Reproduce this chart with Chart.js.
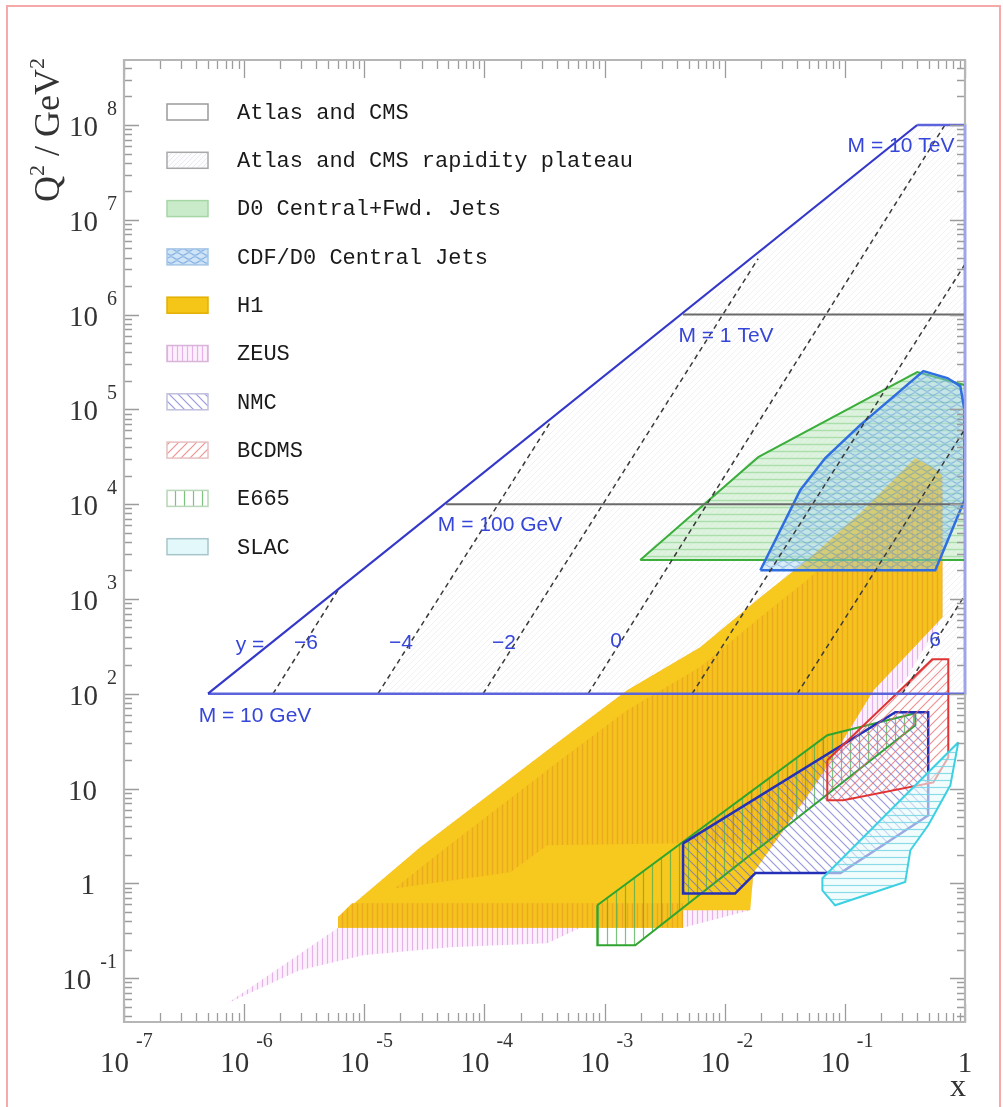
<!DOCTYPE html>
<html><head><meta charset="utf-8">
<script src="https://cdn.jsdelivr.net/npm/chart.js@4.4.1/dist/chart.umd.min.js"></script>
<style>
html,body{margin:0;padding:0;background:#fff;overflow:hidden;width:1003px;height:1107px;}
#frame{position:absolute;left:6px;top:5px;width:995px;height:1200px;border:2px solid #f6a9a9;border-bottom:none;box-sizing:border-box;}
canvas{position:absolute;left:0;top:0;}
</style></head><body>
<div id="frame"></div>
<canvas id="c" width="1003" height="1107"></canvas>
<script>
// ---------------- data (x, Q^2 in GeV^2) ----------------
const xTickExps = [-7,-6,-5,-4,-3,-2,-1,0];
const yTickExps = [-1,0,1,2,3,4,5,6,7,8];
const legendLabels = ['Atlas and CMS','Atlas and CMS rapidity plateau','D0 Central+Fwd. Jets','CDF/D0 Central Jets','H1','ZEUS','NMC','BCDMS','E665','SLAC'];

const atlasDiagX = [5.0e-7, 0.40];
const atlasDiagQ2 = [1e2, 1e8];
const atlasEdgeX = [0.40, 1, 1, 5.0e-7];
const atlasEdgeQ2 = [1e8, 1e8, 1e2, 1e2];
const plateauX = [1.3e-5, 3.6e-4, 0.40, 1, 1];
const plateauQ2 = [1e2, 7.6e4, 1e8, 1e8, 1e2];

const massNames = ['M = 10 GeV','M = 100 GeV','M = 1 TeV','M = 10 TeV'];
const massQ2 = [1e2, 1e4, 1e6, 1e8];
const massStartX = [5.0e-7, 4.8e-5, 4.5e-3, 0.40];

const rapidityValues = [-6,-4,-2,0,2,4,6];
const rapStartX = [1.74e-6, 1.30e-5, 9.75e-5, 7.3e-4, 5.36e-3, 0.0402, 0.30];
const rapStartQ2 = [100, 100, 100, 100, 100, 100, 100];
const rapEndX = [6.2e-6, 3.6e-4, 0.019, 0.68, 1, 1, 1];
const rapEndQ2 = [1300, 7.6e4, 3.9e6, 1e8, 3.4e6, 6.2e4, 1100];

const d0X = [1.98e-3, 0.019, 0.40, 1, 1];
const d0Q2 = [2570, 31300, 247000, 180000, 2570];

const cdfX = [0.0198, 0.0426, 0.0687, 0.134, 0.450, 0.713, 0.914, 0.99, 0.99, 0.566];
const cdfQ2 = [2010, 14100, 30600, 68200, 253000, 214000, 176000, 98200, 11000, 2010];

const h1X = [6.05e-6, 6.05e-6, 2.92e-5, 4.27e-4, 1.54e-3, 6.25e-3, 0.0198, 0.0486, 0.134, 0.385, 0.535, 0.647, 0.647, 0.173, 0.0624, 0.0173, 0.0163, 4.5e-3, 4.5e-3];
const h1Q2 = [0.34, 0.44, 2.4, 32, 109, 310, 1040, 2570, 8040, 30600, 24500, 20200, 641, 109, 13.2, 1.28, 0.52, 0.52, 0.34];
const h1UpperX = [1.80e-5, 4.28e-5, 4.27e-4, 1.54e-3, 6.25e-3, 0.0198, 0.0486, 0.134, 0.364, 0.647, 0.647, 0.173, 0.0624, 0.0258, 4.5e-3, 3.33e-4, 1.64e-4, 2.10e-5];
const h1UpperQ2 = [0.885, 2.12, 19.9, 67, 191, 641, 1580, 4940, 17900, 13400, 641, 109, 13.2, 2.64, 2.64, 2.52, 1.31, 0.91];
const h1LowerX = [6.05e-6, 6.05e-6, 7.9e-6, 4.5e-3, 4.5e-3];
const h1LowerQ2 = [0.34, 0.44, 0.615, 0.615, 0.34];

const zeusX = [7.2e-7, 6.05e-6, 6.05e-6, 2.92e-5, 4.27e-4, 1.54e-3, 6.25e-3, 0.0198, 0.0486, 0.134, 0.385, 0.647, 0.647, 0.318, 0.134, 0.0624, 0.0173, 0.0163, 4.5e-3, 6.3e-4, 4.27e-4, 3.33e-4, 5.2e-5, 9.8e-6, 2.9e-6];
const zeusQ2 = [0.054, 0.34, 0.44, 2.4, 32, 109, 310, 1040, 2570, 8040, 30600, 20200, 641, 139, 41, 12.2, 1.28, 0.52, 0.34, 0.34, 0.27, 0.233, 0.211, 0.174, 0.121];

const nmcX = [4.5e-3, 4.5e-3, 0.0122, 0.018, 0.092, 0.494, 0.494, 0.263];
const nmcQ2 = [2.64, 0.78, 0.78, 1.28, 1.28, 5.2, 63.8, 63.8];

const bcdmsX = [0.0714, 0.0714, 0.097, 0.545, 0.726, 0.726, 0.535];
const bcdmsQ2 = [19.9, 7.5, 7.5, 11.6, 21.4, 231, 231];

const e665X = [8.7e-4, 8.7e-4, 1.8e-3, 0.386, 0.386, 0.122, 0.0714];
const e665Q2 = [0.586, 0.222, 0.222, 46.5, 62.2, 43.3, 36.5];

const slacX = [0.88, 0.065, 0.065, 0.083, 0.318, 0.351, 0.494, 0.755];
const slacQ2 = [30.8, 1.13, 0.84, 0.586, 1.03, 2.23, 4.09, 10.8];

// ---------------- patterns ----------------
const canvas = document.getElementById('c');
const ctx0 = canvas.getContext('2d');
function hatch(bg, fg, kind, s, lw) {
  const c = document.createElement('canvas');
  c.width = (kind === 'wave') ? 12 : s; c.height = (kind === 'wave') ? 8 : s;
  const g = c.getContext('2d');
  if (bg) { g.fillStyle = bg; g.fillRect(0, 0, c.width, c.height); }
  g.strokeStyle = fg; g.lineWidth = lw; g.beginPath();
  if (kind === 'v') { g.moveTo(s/2, 0); g.lineTo(s/2, s); }
  else if (kind === 'h') { g.moveTo(0, s/2); g.lineTo(s, s/2); }
  else if (kind === '/') { g.moveTo(-1, s+1); g.lineTo(s+1, -1); g.moveTo(-1, 1); g.lineTo(1, -1); g.moveTo(s-1, s+1); g.lineTo(s+1, s-1); }
  else if (kind === '\\') { g.moveTo(-1, -1); g.lineTo(s+1, s+1); g.moveTo(s-1, -1); g.lineTo(s+1, 1); g.moveTo(-1, s-1); g.lineTo(1, s+1); }
  else if (kind === 'wave') {
    g.moveTo(0, 2); g.quadraticCurveTo(3, -0.5, 6, 2); g.quadraticCurveTo(9, 4.5, 12, 2);
    g.moveTo(0, 6); g.quadraticCurveTo(3, 8.5, 6, 6); g.quadraticCurveTo(9, 3.5, 12, 6);
  }
  g.stroke();
  return ctx0.createPattern(c, 'repeat');
}
const PAT = {
  plateau: hatch(null, 'rgba(160,160,190,0.16)', '/', 6, 1),
  zeus: hatch('rgba(252,240,252,1)', '#e4b2e8', 'v', 5, 1.2),
  h1: '#f7c81e',
  h1hatch: hatch('#f6c21e', '#eaa91e', 'v', 5, 1.4),
  d0: hatch('rgba(206,238,206,0.7)', 'rgba(150,212,150,0.7)', 'h', 7, 1.4),
  cdf: hatch('rgba(165,212,238,0.42)', 'rgba(70,135,215,0.45)', 'wave', 0, 1.2),
  e665: hatch(null, 'rgba(80,175,80,0.75)', 'v', 9, 1.2),
  nmc: hatch(null, 'rgba(110,110,210,0.7)', '\\', 9, 1.2),
  bcdms: hatch(null, 'rgba(235,110,110,0.75)', '/', 9, 1.2),
  slac: hatch('rgba(232,250,252,0.6)', 'rgba(120,214,228,0.85)', 'h', 7, 1.2)
};

// ---------------- datasets ----------------
function pts(xs, ys, close) {
  const a = xs.map((x, i) => ({x: x, y: ys[i]}));
  if (close) a.push({x: xs[0], y: ys[0]});
  return a;
}
const datasets = [];
function add(ds) {
  datasets.push(Object.assign({
    showLine: true, pointRadius: 0, pointHoverRadius: 0, tension: 0,
    fill: false, backgroundColor: 'rgba(0,0,0,0)', borderColor: 'rgba(0,0,0,0)', borderWidth: 1,
    order: 1000 - datasets.length
  }, ds));
}
function shape(label, xs, ys, bg, stroke, lw) {
  add({label: label, data: pts(xs, ys, true), fill: 'shape', backgroundColor: bg,
       borderColor: stroke || 'rgba(0,0,0,0)', borderWidth: stroke ? lw : 1});
}
shape('Atlas and CMS rapidity plateau', plateauX, plateauQ2, PAT.plateau);
shape('D0 Central+Fwd. Jets', d0X, d0Q2, PAT.d0);
shape('ZEUS', zeusX, zeusQ2, PAT.zeus);
shape('H1', h1X, h1Q2, PAT.h1);
shape('H1 hatched', h1UpperX, h1UpperQ2, PAT.h1hatch);
shape('H1 hatched low', h1LowerX, h1LowerQ2, PAT.h1hatch);
shape('D0 outline', d0X, d0Q2, 'rgba(0,0,0,0)', '#3cae3c', 2);
shape('CDF/D0 Central Jets', cdfX, cdfQ2, PAT.cdf, '#2f6ee0', 2.5);
shape('E665', e665X, e665Q2, PAT.e665, '#2fa52f', 2);
shape('NMC', nmcX, nmcQ2, PAT.nmc, '#2430b8', 2.5);
shape('BCDMS', bcdmsX, bcdmsQ2, PAT.bcdms, '#e03434', 2);
shape('SLAC', slacX, slacQ2, PAT.slac, '#3cd0e2', 2);
rapidityValues.forEach((r, i) => {
  add({label: 'y = ' + r, data: pts([rapStartX[i], rapEndX[i]], [rapStartQ2[i], rapEndQ2[i]], false),
       borderColor: '#3a3a3a', borderWidth: 1.5, borderDash: [5, 4]});
});
[1, 2].forEach(i => {
  add({label: massNames[i], data: pts([massStartX[i], 1], [massQ2[i], massQ2[i]], false),
       borderColor: '#6a6a6a', borderWidth: 2});
});
add({label: 'Atlas and CMS edge', data: pts(atlasEdgeX, atlasEdgeQ2, false), borderColor: '#5c64dc', borderWidth: 2.5, clip: 3});
add({label: 'Atlas and CMS', data: pts(atlasDiagX, atlasDiagQ2, false), borderColor: '#3438c8', borderWidth: 2.2, clip: 3});

// ---------------- drawing of axes, labels, legend ----------------
function decadeTicks(min, max) {
  const out = [];
  for (let e = Math.floor(Math.log10(min)); e <= Math.ceil(Math.log10(max)); e++)
    for (let m = 1; m < 10; m++) {
      const v = m * Math.pow(10, e);
      if (v >= min * 0.9999 && v <= max * 1.0001) out.push({v: v, major: m === 1});
    }
  return out;
}
const legendBoxes = [
  {fill: '#ffffff', stroke: '#9a9a9a'},
  {fill: hatch('#fcfcfe', 'rgba(180,180,205,0.25)', '/', 5, 1), stroke: '#a8a8a8'},
  {fill: '#c9ebc9', stroke: '#a6d6a6'},
  {fill: hatch('#cfe4f6', 'rgba(80,140,215,0.6)', 'wave', 0, 1.2), stroke: '#a6c6e6'},
  {fill: '#f5c518', stroke: '#e2b000'},
  {fill: PAT.zeus, stroke: '#d8b4d8'},
  {fill: PAT.nmc, stroke: '#c0c0de'},
  {fill: PAT.bcdms, stroke: '#e6c0c0'},
  {fill: PAT.e665, stroke: '#b8d6b8'},
  {fill: '#e2f8fa', stroke: '#a8c6ca'}
];
const overlay = {
  id: 'overlay',
  afterDatasetsDraw(chart) {
    const {ctx, chartArea: a, scales} = chart;
    const xs = scales.x, ys = scales.y;
    ctx.save();
    ctx.strokeStyle = '#9c9c9c'; ctx.lineWidth = 1.3;
    ctx.beginPath();
    decadeTicks(xs.min, xs.max).forEach(t => {
      const p = Math.round(xs.getPixelForValue(t.v)) + 0.5;
      const L = t.major ? 18 : 9;
      ctx.moveTo(p, a.bottom); ctx.lineTo(p, a.bottom - L);
      ctx.moveTo(p, a.top); ctx.lineTo(p, a.top + L);
    });
    decadeTicks(ys.min, ys.max).forEach(t => {
      const p = Math.round(ys.getPixelForValue(t.v)) + 0.5;
      const L = t.major ? 15 : 8;
      ctx.moveTo(a.left, p); ctx.lineTo(a.left + L, p);
      ctx.moveTo(a.right, p); ctx.lineTo(a.right - L, p);
    });
    ctx.stroke();
    const yTop = ys.getPixelForValue(atlasEdgeQ2[0]), yBot = ys.getPixelForValue(atlasEdgeQ2[2]);
    ctx.strokeStyle = '#b6b6b6'; ctx.lineWidth = 2.2;
    ctx.beginPath();
    ctx.moveTo(a.right, yTop); ctx.lineTo(a.right, a.top); ctx.lineTo(a.left, a.top); ctx.lineTo(a.left, a.bottom); ctx.lineTo(a.right, a.bottom); ctx.lineTo(a.right, yBot);
    ctx.stroke();
    ctx.strokeStyle = '#9ea4ea';
    ctx.beginPath(); ctx.moveTo(a.right, yTop); ctx.lineTo(a.right, yBot); ctx.stroke();
    ctx.restore();
  },
  afterDraw(chart) {
    const {ctx, scales} = chart;
    const xs = scales.x, ys = scales.y;
    ctx.save();
    const big = "29px 'Liberation Serif'", small = "20px 'Liberation Serif'";
    ctx.fillStyle = '#333';
    ctx.textBaseline = 'alphabetic';
    xTickExps.forEach(e => {
      const p = xs.getPixelForValue(Math.pow(10, e));
      if (e === 0) { ctx.font = big; ctx.textAlign = 'center'; ctx.fillText('1', p, 1072); return; }
      ctx.font = big; ctx.textAlign = 'right'; ctx.fillText('10', p + 5, 1072);
      ctx.font = small; ctx.textAlign = 'left'; ctx.fillText(String(e), p + 12, 1047);
    });
    yTickExps.forEach(e => {
      const p = ys.getPixelForValue(Math.pow(10, e));
      ctx.textAlign = 'right';
      if (e === 0) { ctx.font = big; ctx.fillText('1', 95, p + 11); return; }
      if (e === 1) { ctx.font = big; ctx.fillText('10', 97, p + 11); return; }
      ctx.font = small; const s = String(e); const w = ctx.measureText(s).width;
      ctx.textAlign = 'left'; ctx.fillText(s, 117 - w, p - 10);
      ctx.font = big; ctx.textAlign = 'right'; ctx.fillText('10', 117 - w - 9, p + 11);
    });
    // axis titles
    ctx.font = "32px 'Liberation Serif'"; ctx.textAlign = 'right';
    ctx.fillText('x', 966, 1096);
    ctx.save();
    ctx.translate(59, 130); ctx.rotate(-Math.PI / 2);
    const tf = "36px 'Liberation Serif'", sf = "22px 'Liberation Serif'";
    const parts = [['Q', tf, 0], ['2', sf, -15], [' / GeV', tf, 0], ['2', sf, -15]];
    let total = 0;
    parts.forEach(pp => { ctx.font = pp[1]; total += ctx.measureText(pp[0]).width; });
    let cx = -total / 2;
    ctx.textAlign = 'left';
    parts.forEach(pp => { ctx.font = pp[1]; ctx.fillText(pp[0], cx, pp[2]); cx += ctx.measureText(pp[0]).width; });
    ctx.restore();
    // annotations
    ctx.fillStyle = '#3646d8'; ctx.font = "21px 'Liberation Sans'";
    ctx.textAlign = 'center'; ctx.textBaseline = 'middle';
    const ann = [[massNames[3], 901, 146], [massNames[2], 726, 336], [massNames[1], 500, 525], [massNames[0], 255, 716],
                 ['y =', 250, 645], ['\u22126', 306, 643], ['\u22124', 401, 643], ['\u22122', 504, 643], ['0', 616, 641], ['6', 935, 640]];
    ann.forEach(t => ctx.fillText(t[0], t[1], t[2]));
    // legend
    ctx.font = "22px 'Liberation Mono'";
    ctx.textAlign = 'left'; ctx.textBaseline = 'middle';
    legendLabels.forEach((lab, i) => {
      const cy = 112 + i * 48.3;
      const b = legendBoxes[i];
      ctx.fillStyle = '#fff'; ctx.fillRect(167, cy - 8, 41, 16);
      ctx.fillStyle = b.fill; ctx.fillRect(167, cy - 8, 41, 16);
      ctx.strokeStyle = b.stroke; ctx.lineWidth = 1.5; ctx.strokeRect(167, cy - 8, 41, 16);
      ctx.fillStyle = '#1a1a1a'; ctx.fillText(lab, 237, cy + 1);
    });
    ctx.restore();
  }
};

new Chart(ctx0, {
  type: 'scatter',
  data: {datasets: datasets},
  options: {
    responsive: false, animation: false, devicePixelRatio: 1, events: [],
    layout: {padding: {left: 124, right: 38, top: 60, bottom: 85}},
    scales: {
      x: {type: 'logarithmic', min: 1e-7, max: 1, display: false, bounds: 'data'},
      y: {type: 'logarithmic', min: 0.0344, max: 4.85e8, display: false, bounds: 'data'}
    },
    plugins: {legend: {display: false}, tooltip: {enabled: false}}
  },
  plugins: [overlay]
});
</script>
</body></html>
